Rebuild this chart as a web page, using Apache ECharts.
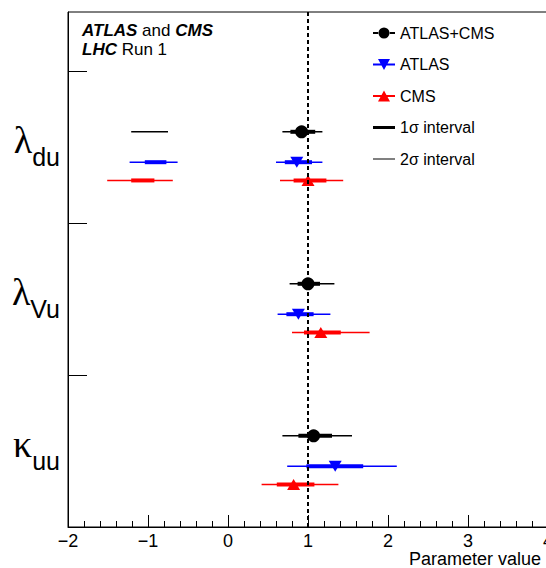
<!DOCTYPE html>
<html><head><meta charset="utf-8">
<script src="https://cdn.jsdelivr.net/npm/echarts@6/dist/echarts.min.js"></script>
<style>html,body{margin:0;padding:0;background:#fff}#c{width:546px;height:568px}</style>
</head><body><div id="c"></div>
<script>
// ---- data (index 0 = kappa_uu (bottom), 1 = lambda_Vu, 2 = lambda_du (top)) ----
const paramGreek = ['κ', 'λ', 'λ'];
const paramSub = ['uu', 'Vu', 'du'];
const xTicks = [-2, -1, 0, 1, 2, 3, 4];

const combinedCentral = [1.07, 1.00, 0.92];
const combined1s = [[[0.88, 1.30]], [[0.87, 1.15]], [[0.78, 1.09]]];
const combined2s = [[[0.68, 1.55]], [[0.77, 1.33]], [[-1.21, -0.75], [0.68, 1.18]]];

const atlasCentral = [1.34, 0.88, 0.86];
const atlas1s = [[[0.98, 1.69]], [[0.73, 1.07]], [[-1.04, -0.77], [0.71, 1.05]]];
const atlas2s = [[[0.74, 2.11]], [[0.62, 1.28]], [[-1.23, -0.63], [0.60, 1.18]]];

const cmsCentral = [0.82, 1.16, 1.00];
const cms1s = [[[0.61, 1.08]], [[0.95, 1.41]], [[-1.21, -0.92], [0.82, 1.23]]];
const cms2s = [[[0.42, 1.38]], [[0.80, 1.77]], [[-1.51, -0.69], [0.65, 1.44]]];

const smName = 'SM';
const smValue = 1;

// ---- layout / style ----
const ROW_OFFSET = { comb: 0.6, atlas: 0.4, cms: 0.28 };
const FONT = 'Liberation Sans';

function segData(intervals, off) {
  const out = [];
  intervals.forEach((segs, i) => segs.forEach(s => out.push([s[0], s[1], i + off])));
  return out;
}
function ptData(central, off) { return central.map((v, i) => [v, i + off]); }

function errSeries(name, data, color, width, z) {
  return {
    type: 'custom', name: name, z: z, silent: true,
    data: data,
    encode: { x: [0, 1], y: 2 },
    renderItem: function (params, api) {
      const p1 = api.coord([api.value(0), api.value(2)]);
      const p2 = api.coord([api.value(1), api.value(2)]);
      return { type: 'line', shape: { x1: p1[0], y1: p1[1], x2: p2[0], y2: p2[1] },
        style: { stroke: color, lineWidth: width } };
    }
  };
}

const chart = echarts.init(document.getElementById('c'), null, { renderer: 'svg' });

const iconCircle = 'path://M0 4.5H6V6.5H0Z M16 4.5H22V6.5H16Z M5.5 5.5A5.5 5.5 0 1 0 16.5 5.5A5.5 5.5 0 1 0 5.5 5.5Z';
const iconDown = 'path://M0 4.5H22V6.5H0Z M5 0H17L11 11Z';
const iconUp = 'path://M0 4.5H22V6.5H0Z M11 0L17 11H5Z';
const iconThick = 'path://M0 0 M22 11 M0 4H22V7H0Z';
const iconThin = 'path://M0 0 M22 11 M0 5H22V6H0Z';

const option = {
  animation: false,
  backgroundColor: '#fff',
  grid: { left: 68, top: 12, width: 480, height: 515, show: true, borderColor: '#000', borderWidth: 1,
    containLabel: false, outerBoundsMode: 'none' },
  xAxis: {
    type: 'value', min: xTicks[0], max: xTicks[xTicks.length - 1], interval: 1,
    name: 'Parameter value', nameLocation: 'end', nameGap: -7, nameMoveOverlap: false,
    nameTextStyle: { fontFamily: FONT, fontSize: 18, color: '#000', align: 'right', verticalAlign: 'top', padding: [23, 0, 0, 0] },
    axisLine: { show: true, onZero: false, lineStyle: { color: '#000', width: 1 } },
    axisTick: { show: true, inside: true, length: 12, lineStyle: { color: '#000', width: 1 } },
    minorTick: { show: true, splitNumber: 5, length: 6, lineStyle: { color: '#000', width: 1 } },
    splitLine: { show: false },
    axisLabel: { fontFamily: FONT, fontSize: 18, color: '#000', margin: 5,
      formatter: v => String(v).replace('-', '\u2212') }
  },
  yAxis: {
    type: 'value', min: 0, max: 515 / 152,
    axisLine: { show: true, onZero: false, lineStyle: { color: '#000', width: 1 } },
    axisTick: { show: true, inside: true, length: 19, customValues: [1, 2, 3], lineStyle: { color: '#000', width: 1 } },
    splitLine: { show: false },
    axisLabel: {
      customValues: [0.5, 1.5, 2.5], margin: 8, padding: [0, 0, 4, 0],
      formatter: v => { const i = Math.round(v - 0.5); return '{g|' + paramGreek[i] + '}{s|' + paramSub[i] + '}'; },
      rich: {
        g: { fontFamily: 'Liberation Serif', fontSize: 38, color: '#000', verticalAlign: 'bottom', padding: [0, 0, 11, 0] },
        s: { fontFamily: FONT, fontSize: 25, color: '#000', verticalAlign: 'bottom' }
      }
    }
  },
  legend: {
    orient: 'vertical', left: 368, top: 20, itemWidth: 22, itemHeight: 11, itemGap: 15.5,
    textStyle: { fontFamily: FONT, fontSize: 16, color: '#000', padding: [0, 0, 0, 0] },
    selectedMode: false,
    data: [
      { name: 'ATLAS+CMS', icon: iconCircle, itemStyle: { color: '#000' } },
      { name: 'ATLAS', icon: iconDown, itemStyle: { color: '#0000ff' } },
      { name: 'CMS', icon: iconUp, itemStyle: { color: '#ff0000' } },
      { name: '1σ interval', icon: iconThick, itemStyle: { color: '#000' } },
      { name: '2σ interval', icon: iconThin, itemStyle: { color: '#000' } }
    ]
  },
  graphic: [{
    type: 'text', left: 82, top: 21,
    style: {
      text: '{b|ATLAS} and {b|CMS}\n{b|LHC} Run 1',
      fontFamily: FONT, fontSize: 17, lineHeight: 19, fill: '#000',
      rich: { b: { fontFamily: FONT, fontSize: 17, fontWeight: 'bold', fontStyle: 'italic', lineHeight: 19 } }
    }
  }],
  series: [
    errSeries('ATLAS+CMS', segData(combined2s, ROW_OFFSET.comb), '#000', 1.5, 2),
    errSeries('ATLAS', segData(atlas2s, ROW_OFFSET.atlas), '#0000ff', 1.5, 2),
    errSeries('CMS', segData(cms2s, ROW_OFFSET.cms), '#ff0000', 1.5, 2),
    errSeries('ATLAS+CMS', segData(combined1s, ROW_OFFSET.comb), '#000', 4, 3),
    errSeries('ATLAS', segData(atlas1s, ROW_OFFSET.atlas), '#0000ff', 4, 3),
    errSeries('CMS', segData(cms1s, ROW_OFFSET.cms), '#ff0000', 4, 3),
    {
      type: 'scatter', name: 'ATLAS+CMS', z: 4, silent: true,
      data: ptData(combinedCentral, ROW_OFFSET.comb),
      symbol: 'circle', symbolSize: 13, itemStyle: { color: '#000', opacity: 1 },
      markLine: {
        silent: true, symbol: 'none', label: { show: false },
        lineStyle: { color: '#000', width: 2, type: [4, 3] },
        data: [{ name: smName, xAxis: smValue }]
      }
    },
    {
      type: 'scatter', name: 'ATLAS', z: 4, silent: true,
      data: ptData(atlasCentral, ROW_OFFSET.atlas),
      symbol: 'triangle', symbolRotate: 180, symbolSize: [13, 11], itemStyle: { color: '#0000ff', opacity: 1 }
    },
    {
      type: 'scatter', name: 'CMS', z: 4, silent: true,
      data: ptData(cmsCentral, ROW_OFFSET.cms),
      symbol: 'triangle', symbolSize: [13, 11], itemStyle: { color: '#ff0000', opacity: 1 }
    },
    { type: 'line', name: '1σ interval', data: [], symbol: 'none', lineStyle: { color: '#000', width: 3 }, itemStyle: { color: '#000' } },
    { type: 'line', name: '2σ interval', data: [], symbol: 'none', lineStyle: { color: '#000', width: 1 }, itemStyle: { color: '#000' } }
  ]
};
chart.setOption(option);
</script>
</body></html>
